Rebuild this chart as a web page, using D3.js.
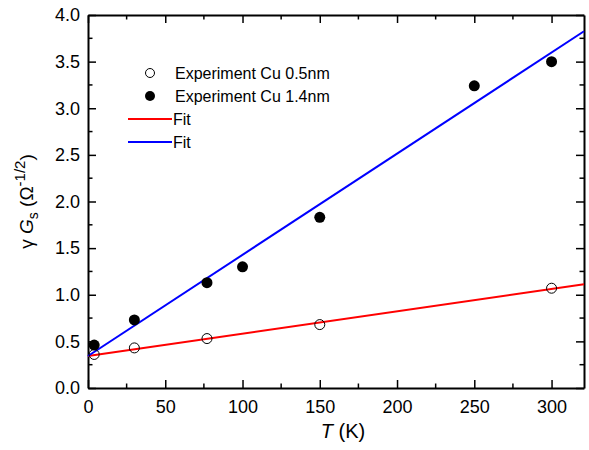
<!DOCTYPE html>
<html>
<head>
<meta charset="utf-8">
<script src="https://cdn.jsdelivr.net/npm/d3@7"></script>
<style>
  body { margin: 0; background: #fff; }
  svg text { font-family: "Liberation Sans", Arial, sans-serif; fill: #000; }
</style>
</head>
<body>
<div id="chart"></div>
<script>
// data
const tempThin = [4, 30, 77, 150, 300];
const valThin = [0.36, 0.43, 0.53, 0.68, 1.07];
const tempThick = [4, 30, 77, 100, 150, 250, 300];
const valThick = [0.46, 0.73, 1.13, 1.30, 1.83, 3.24, 3.50];
// linear fits: [intercept, slope]
const fitThin = [0.343, 0.0024];
const fitThick = [0.343, 0.01085];
const xTicks = [0, 50, 100, 150, 200, 250, 300];
const yTicks = [0, 0.5, 1.0, 1.5, 2.0, 2.5, 3.0, 3.5, 4.0];
const legendLabels = ["Experiment Cu 0.5nm", "Experiment Cu 1.4nm", "Fit", "Fit"];

const width = 589, height = 450;
const margin = {top: 15, right: 5, bottom: 62, left: 88};
const xMax = 321;

const svg = d3.select("#chart").append("svg")
  .attr("width", width).attr("height", height);

const x = d3.scaleLinear().domain([0, xMax]).range([margin.left, width - margin.right]);
const y = d3.scaleLinear().domain([0, 4]).range([height - margin.bottom, margin.top]);

const minorX = d3.range(25, xMax, 50);
const minorY = d3.range(0.25, 4, 0.5);

// axes, ticks pointing inward
const axBottom = svg.append("g").attr("transform", `translate(0,${y(0)})`);
axBottom.call(d3.axisBottom(x).tickValues(xTicks).tickSize(-8).tickPadding(12).tickSizeOuter(0).tickFormat(d3.format("d")));
axBottom.append("g").selectAll("line").data(minorX).join("line")
  .attr("x1", d => x(d)).attr("x2", d => x(d)).attr("y1", 0).attr("y2", -4.5).attr("stroke", "#000").attr("stroke-width", 1.5);

const axLeft = svg.append("g").attr("transform", `translate(${x(0)},0)`);
axLeft.call(d3.axisLeft(y).tickValues(yTicks).tickSize(-8).tickPadding(8).tickSizeOuter(0).tickFormat(d3.format(".1f")));
axLeft.append("g").selectAll("line").data(minorY).join("line")
  .attr("y1", d => y(d)).attr("y2", d => y(d)).attr("x1", 0).attr("x2", 4.5).attr("stroke", "#000").attr("stroke-width", 1.5);

const axTop = svg.append("g").attr("transform", `translate(0,${y(4)})`);
axTop.call(d3.axisTop(x).tickValues(xTicks).tickSize(-8).tickFormat("").tickSizeOuter(0));
axTop.append("g").selectAll("line").data(minorX).join("line")
  .attr("x1", d => x(d)).attr("x2", d => x(d)).attr("y1", 0).attr("y2", 4.5).attr("stroke", "#000").attr("stroke-width", 1.5);

const axRight = svg.append("g").attr("transform", `translate(${x(xMax)},0)`);
axRight.call(d3.axisRight(y).tickValues(yTicks).tickSize(-8).tickFormat("").tickSizeOuter(0));
axRight.append("g").selectAll("line").data(minorY).join("line")
  .attr("y1", d => y(d)).attr("y2", d => y(d)).attr("x1", 0).attr("x2", -4.5).attr("stroke", "#000").attr("stroke-width", 1.5);

svg.selectAll(".domain").attr("stroke", "#000").attr("stroke-width", 2);
svg.selectAll(".tick line").attr("stroke", "#000").attr("stroke-width", 1.5);
svg.selectAll(".tick text").attr("font-size", 18);

// fit lines
const fitLine = d3.line().x(d => x(d[0])).y(d => y(d[1]));
const lineData = f => [[0, f[0]], [xMax, f[0] + f[1] * xMax]];
svg.append("path").attr("d", fitLine(lineData(fitThin))).attr("stroke", "#ff0000").attr("stroke-width", 2).attr("fill", "none");
svg.append("path").attr("d", fitLine(lineData(fitThick))).attr("stroke", "#0000ff").attr("stroke-width", 2).attr("fill", "none");

// points
svg.append("g").selectAll("circle").data(tempThick).join("circle")
  .attr("cx", d => x(d)).attr("cy", (d, i) => y(valThick[i])).attr("r", 5.5).attr("fill", "#000");
svg.append("g").selectAll("circle").data(tempThin).join("circle")
  .attr("cx", d => x(d)).attr("cy", (d, i) => y(valThin[i])).attr("r", 5)
  .attr("fill", "none").attr("stroke", "#000").attr("stroke-width", 1);

// legend
const leg = svg.append("g");
const rowsY = [73, 96, 119, 142];
leg.append("circle").attr("cx", 150).attr("cy", rowsY[0]).attr("r", 4.5).attr("fill", "none").attr("stroke", "#000");
leg.append("circle").attr("cx", 150).attr("cy", rowsY[1]).attr("r", 5).attr("fill", "#000");
leg.append("line").attr("x1", 128).attr("x2", 172).attr("y1", rowsY[2]).attr("y2", rowsY[2]).attr("stroke", "#ff0000").attr("stroke-width", 2);
leg.append("line").attr("x1", 128).attr("x2", 172).attr("y1", rowsY[3]).attr("y2", rowsY[3]).attr("stroke", "#0000ff").attr("stroke-width", 2);
leg.selectAll("text").data(legendLabels).join("text")
  .attr("x", (d, i) => i < 2 ? 175 : 173).attr("y", (d, i) => rowsY[i]).attr("dy", "0.35em")
  .attr("font-size", 16).text(d => d);

// axis titles
const xt = svg.append("text").attr("x", x(165)).attr("y", 438).attr("text-anchor", "middle").attr("font-size", 20);
xt.append("tspan").attr("font-style", "italic").text("T");
xt.append("tspan").text(" (K)");

const yt = svg.append("text").attr("transform", `translate(33,${y(2)}) rotate(-90)`)
  .attr("text-anchor", "middle").attr("font-size", 19);
yt.append("tspan").text("γ ");
yt.append("tspan").attr("font-style", "italic").text("G");
yt.append("tspan").attr("font-size", 14).attr("dy", 5).text("s");
yt.append("tspan").attr("dy", -5).text(" (Ω");
yt.append("tspan").attr("font-size", 15).attr("dy", -8).text("-1/2");
yt.append("tspan").attr("dy", 8).text(")");
</script>
</body>
</html>
